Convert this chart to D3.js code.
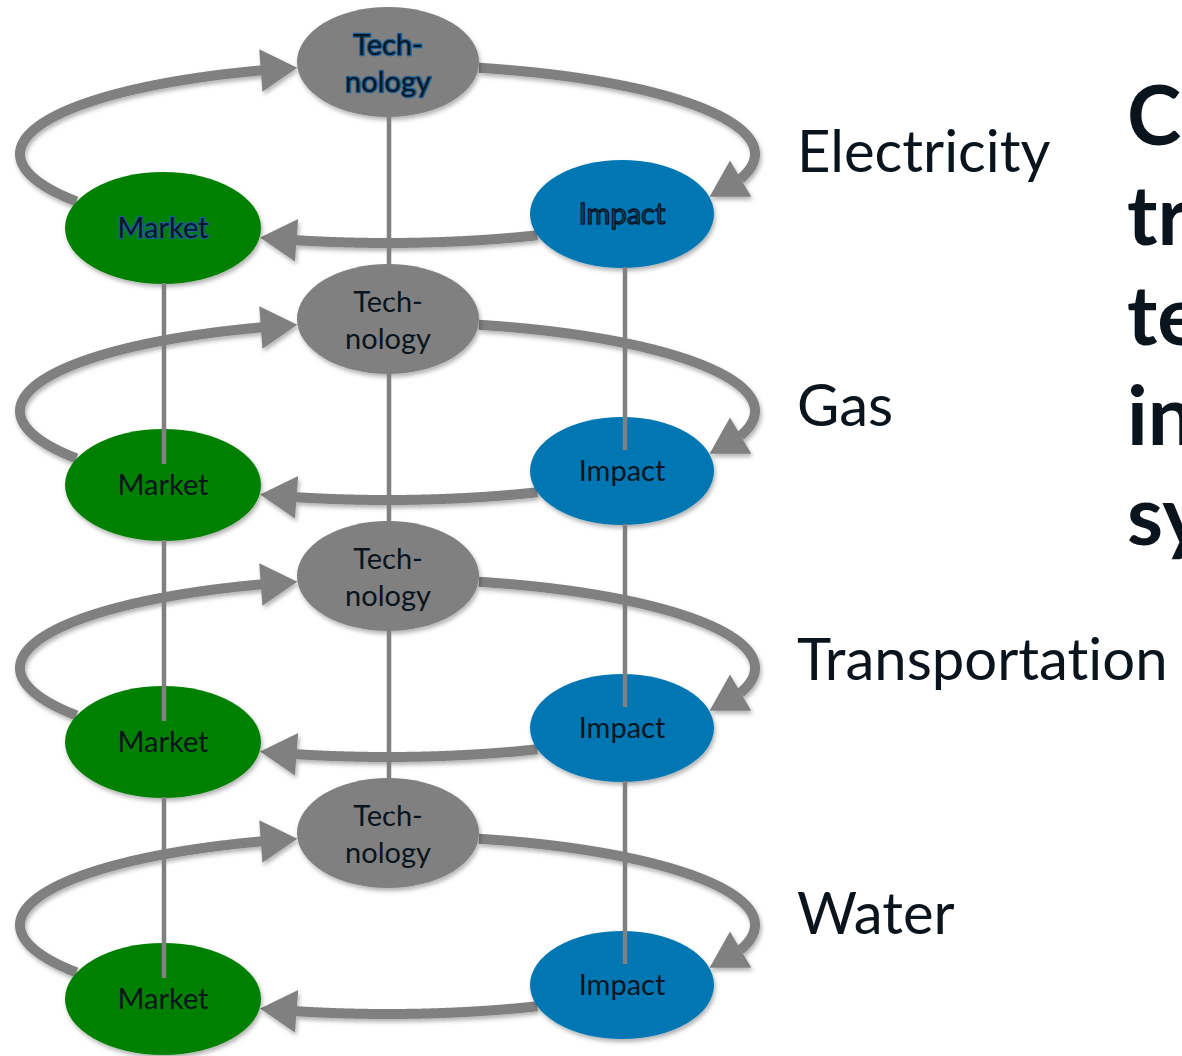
<!DOCTYPE html>
<html>
<head>
<meta charset="utf-8">
<script src="https://cdn.jsdelivr.net/npm/d3@7"></script>
<style>
  html, body { margin: 0; padding: 0; background: #fff; }
  svg { display: block; font-family: Lato, 'Open Sans', sans-serif; font-variant-ligatures: none; }
</style>
</head>
<body>
<div id="chart"></div>
<script>
// layers of the stacked system, top to bottom
const layers = ['Electricity', 'Gas', 'Transportation', 'Water'];
// the three nodes repeated in every layer
const roles = ['Market', 'Technology', 'Impact'];
const roleLabels = [['Market'], ['Tech-', 'nology'], ['Impact']];
const roleColors = ['#008000', '#808080', '#0077b3'];
// the top layer's labels are outlined: glyph fill, outline colour, outline width
const topFill = ['#081826', '#081826', '#0b4f7a'];
const topOutline = ['#1d5f94', '#1d5f94', '#06121c'];
const topOutlineWidth = [2.6, 2.6, 1.3];
// cycle inside each layer
const flows = [['Market', 'Technology'], ['Technology', 'Impact'], ['Impact', 'Market']];
// headline on the right (cut off by the page edge)
const headline = ['Co', 'tr', 'te', 'in', 'sy'];

const cfg = {
  width: 1182,
  height: 1056,
  gray: '#808080',
  ink: '#0a141d',
  ring: { cx: 387.5, cy: 154, rx: 367.5, ry: 89 },
  ringWidth: 10,
  headLen: 36,
  headHalf: 21,
  linkWidth: 4.5,
};

const svg = d3.select('#chart').append('svg')
  .attr('width', cfg.width)
  .attr('height', cfg.height);

const defs = svg.append('defs');
defs.append('filter')
  .attr('id', 'shadow')
  .attr('x', '-20%').attr('y', '-20%')
  .attr('width', '140%').attr('height', '150%')
  .append('feDropShadow')
  .attr('dx', 1.5).attr('dy', 3)
  .attr('stdDeviation', 2.2)
  .attr('flood-color', '#000')
  .attr('flood-opacity', 0.3);

// scales
const layerY = d3.scalePoint().domain(layers).range([0, 771]);
const labelY = d3.scalePoint().domain(layers).range([172, 934]);
const nodeX = d3.scaleOrdinal(roles, [163, 388, 622]);
const nodeDY = d3.scaleOrdinal(roles, [228, 62, 214]);
const nodeRX = d3.scaleOrdinal(roles, [98, 91, 92]);
const nodeRY = d3.scaleOrdinal(roles, [56, 55, 54]);
const nodeFill = d3.scaleOrdinal(roles, roleColors);
const nodeText = d3.scaleOrdinal(roles, roleLabels);
const topTextFill = d3.scaleOrdinal(roles, topFill);
const topTextStroke = d3.scaleOrdinal(roles, topOutline);
const topTextStrokeW = d3.scaleOrdinal(roles, topOutlineWidth);
const linkX = d3.scaleOrdinal(roles, [164, 389, 625]);

const line = d3.line().curve(d3.curveLinear);

function node(role, layer) {
  return {
    x: nodeX(role), y: nodeDY(role) + layerY(layer), rx: nodeRX(role), ry: nodeRY(role),
  };
}

function inside(n, p) {
  const a = (p[0] - n.x) / n.rx;
  const b = (p[1] - n.y) / n.ry;
  return a * a + b * b <= 1;
}

// arc of the layer ring between two nodes, clipped at both ellipses
function ringArc(from, to, layer) {
  const r = cfg.ring;
  const cy = r.cy + layerY(layer);
  const a = node(from, layer);
  const b = node(to, layer);
  const ang = n => Math.atan2((n.y - cy) / r.ry, (n.x - r.cx) / r.rx);
  const t0 = ang(a);
  let t1 = ang(b);
  while (t1 <= t0) t1 += 2 * Math.PI;
  const pts = d3.range(t0, t1, 0.002)
    .map(t => [r.cx + r.rx * Math.cos(t), cy + r.ry * Math.sin(t)])
    .filter(p => !inside(a, p) && !inside(b, p));
  const tip = pts[pts.length - 1];
  let k = pts.length - 1;
  while (k > 0 && Math.hypot(pts[k][0] - tip[0], pts[k][1] - tip[1]) < cfg.headLen) k -= 1;
  const base = pts[k];
  const ux = (tip[0] - base[0]) / cfg.headLen;
  const uy = (tip[1] - base[1]) / cfg.headLen;
  const head = [
    tip,
    [base[0] - uy * cfg.headHalf, base[1] + ux * cfg.headHalf],
    [base[0] + uy * cfg.headHalf, base[1] - ux * cfg.headHalf],
  ];
  return { shaft: pts.slice(0, k + 2), head };
}

layers.forEach((layer, li) => {
  const g = svg.append('g').attr('class', 'layer');
  const arcs = g.append('g').attr('filter', 'url(#shadow)');

  flows.forEach(([from, to]) => {
    const arc = ringArc(from, to, layer);
    arcs.append('path')
      .attr('d', line(arc.shaft))
      .attr('fill', 'none')
      .attr('stroke', cfg.gray)
      .attr('stroke-width', cfg.ringWidth);
    arcs.append('path')
      .attr('d', `${line(arc.head)}Z`)
      .attr('fill', cfg.gray);
  });

  const nodes = g.selectAll('g.node')
    .data(roles)
    .enter().append('g')
    .attr('class', 'node')
    .attr('transform', d => `translate(${nodeX(d)},${nodeDY(d) + layerY(layer)})`);

  nodes.append('ellipse')
    .attr('rx', d => nodeRX(d))
    .attr('ry', d => nodeRY(d))
    .attr('fill', d => nodeFill(d))
    .attr('filter', 'url(#shadow)');

  // the top layer's labels carry an outline, the others are plain
  const top = li === 0;
  const txt = nodes.append('text')
    .attr('text-anchor', 'middle')
    .style('font-size', '29px')
    .style('paint-order', d => (top && d !== 'Impact' ? 'stroke' : 'normal'))
    .attr('fill', d => (top ? topTextFill(d) : cfg.ink))
    .attr('stroke', d => (top ? topTextStroke(d) : 'none'))
    .attr('stroke-width', d => (top ? topTextStrokeW(d) : 0))
    .attr('stroke-linejoin', 'round');

  txt.selectAll('tspan')
    .data(d => nodeText(d).map((t, i, arr) => ({ t, i, n: arr.length })))
    .enter().append('tspan')
    .attr('x', 0)
    .attr('y', d => (d.n === 1 ? 10 : -7 + d.i * 37))
    .text(d => d.t);

  svg.append('text')
    .attr('x', 797)
    .attr('y', labelY(layer))
    .attr('fill', cfg.ink)
    .style('font-size', '58px')
    .text(layer);
});

// vertical links between the same node of neighbouring layers
const links = [];
roles.forEach((role) => {
  d3.pairs(layers).forEach(([upper, lower]) => {
    const u = node(role, upper);
    const l = node(role, lower);
    links.push({ x: linkX(role), y1: u.y + u.ry - 1, y2: l.y - 21 });
  });
});

svg.append('g')
  .selectAll('line')
  .data(links)
  .enter().append('line')
  .attr('x1', d => d.x)
  .attr('x2', d => d.x)
  .attr('y1', d => d.y1)
  .attr('y2', d => d.y2)
  .attr('stroke', cfg.gray)
  .attr('stroke-width', cfg.linkWidth);

svg.append('g')
  .selectAll('text')
  .data(headline)
  .enter().append('text')
  .attr('x', 1127)
  .attr('y', (d, i) => 145 + i * 100)
  .attr('fill', cfg.ink)
  .style('font-size', '82px')
  .style('font-weight', 700)
  .text(d => d);
</script>
</body>
</html>
